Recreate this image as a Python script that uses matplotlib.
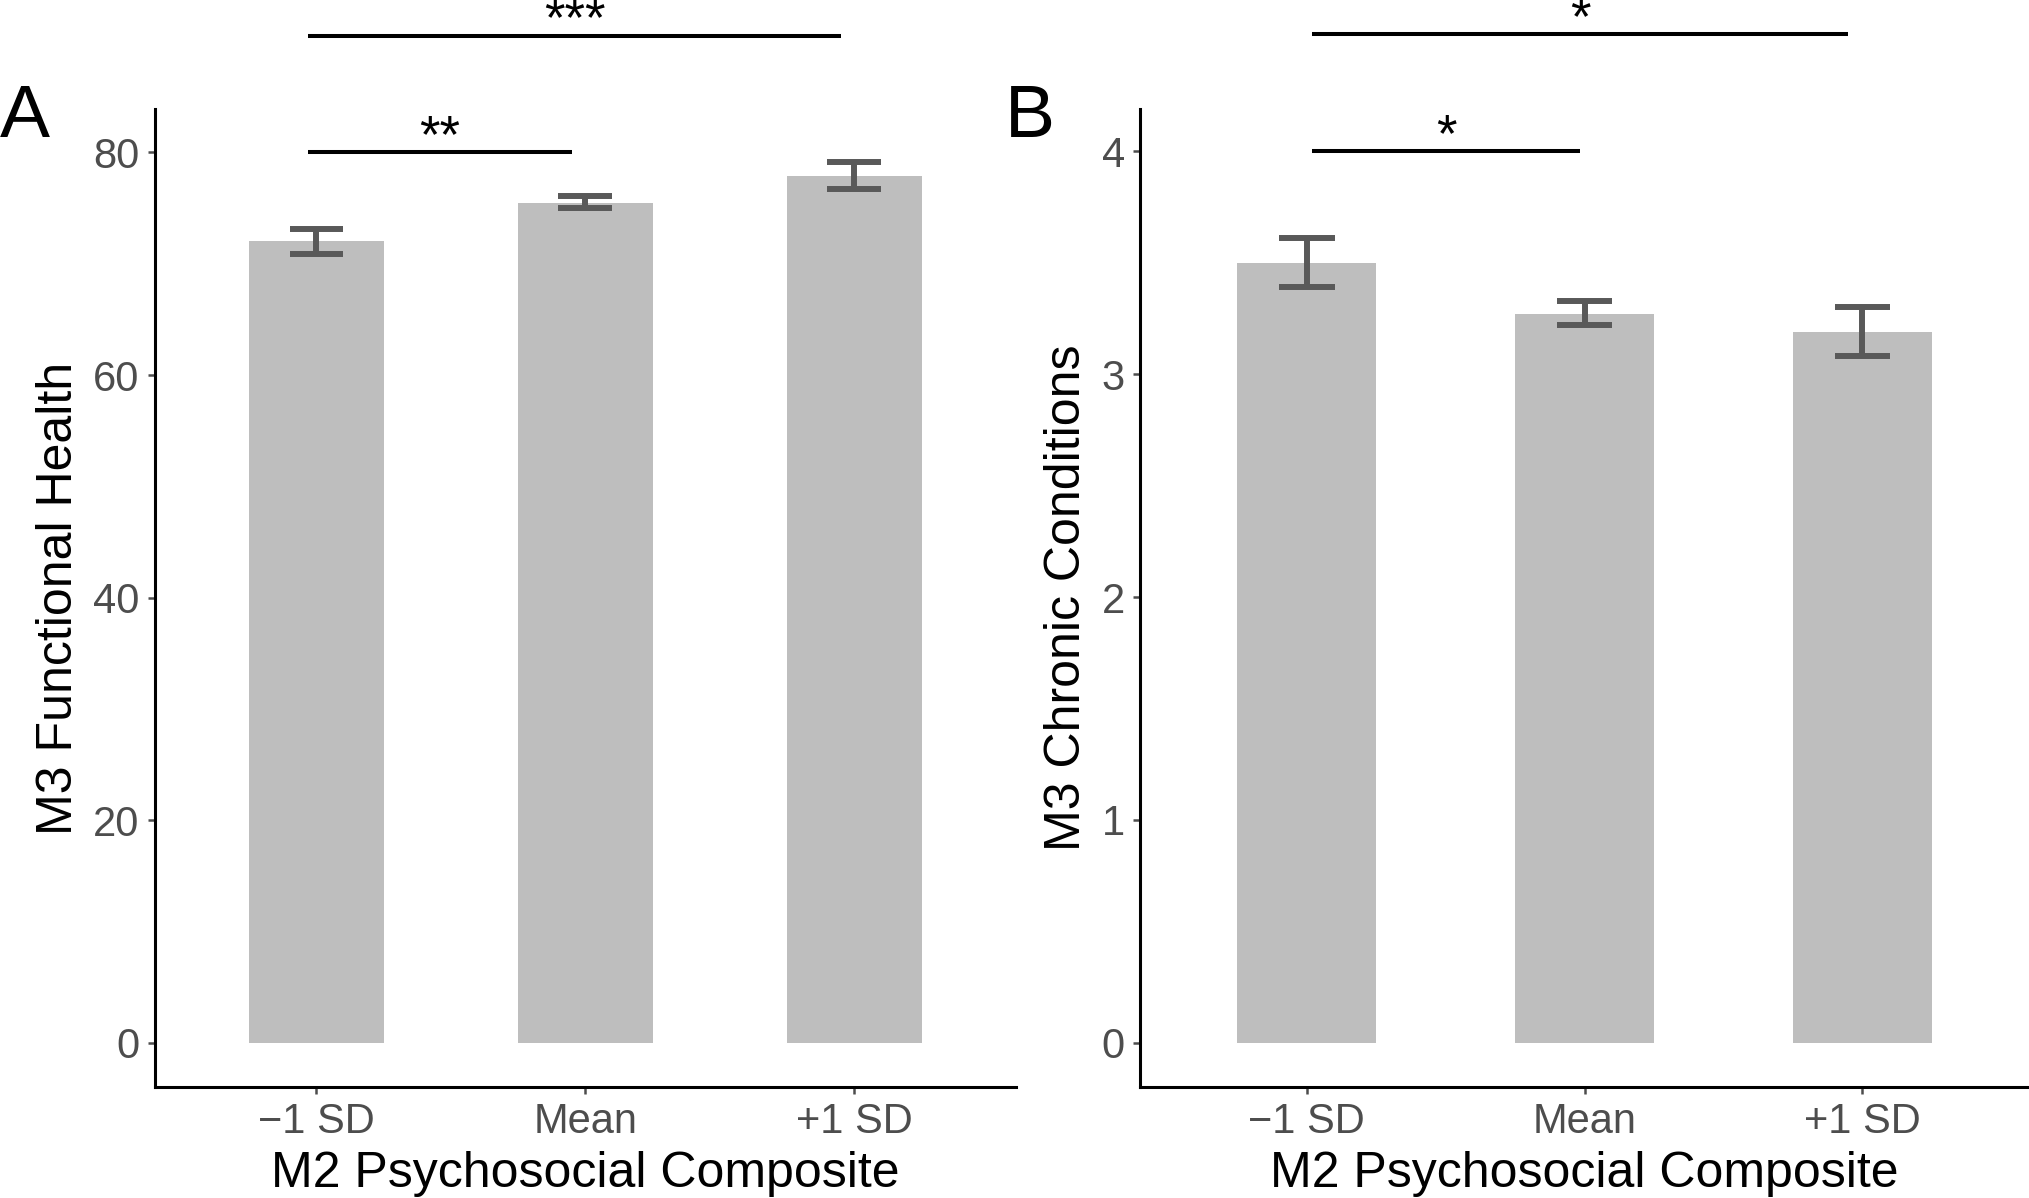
import matplotlib
matplotlib.use("Agg")
import matplotlib.pyplot as plt
import numpy as np

plt.rcParams["font.family"] = ["Liberation Sans", "DejaVu Sans"]

categories = ["\u22121 SD", "Mean", "+1 SD"]

# panel A: functional health
health_mean = [72.0, 75.5, 77.9]
health_low = [70.9, 75.0, 76.7]
health_high = [73.1, 76.1, 79.1]
health_brackets = [(0.97, 1.95, 80.0, "**"), (0.97, 2.95, 90.5, "***")]

# panel B: chronic conditions
chronic_mean = [3.50, 3.27, 3.19]
chronic_low = [3.39, 3.22, 3.08]
chronic_high = [3.61, 3.33, 3.30]
chronic_brackets = [(1.02, 1.985, 4.0, "*"), (1.02, 2.95, 4.527, "*")]

BAR = "#bebebe"
ERR = "#595959"
TICK = "#4d4d4d"

fig = plt.figure(figsize=(20.29, 11.98), dpi=100)
ax_a = fig.add_axes([0.0764, 0.0927, 0.4242, 0.8163])
ax_b = fig.add_axes([0.5619, 0.0927, 0.4381, 0.8163])


def draw_panel(ax, means, low, high, brackets, ylim, yticks, ylabel):
    x = np.arange(1, len(categories) + 1)
    ax.bar(x, means, width=0.5, color=BAR, zorder=1)
    ax.vlines(x, low, high, color=ERR, lw=4.3, zorder=2)
    ax.hlines(low, x - 0.1, x + 0.1, color=ERR, lw=4.3, zorder=2)
    ax.hlines(high, x - 0.1, x + 0.1, color=ERR, lw=4.3, zorder=2)
    ax.set_xlim(0.4, 3.6)
    ax.set_ylim(*ylim)
    ax.set_xticks(x)
    ax.set_xticklabels(categories)
    ax.set_yticks(yticks)
    for spine in ("top", "right"):
        ax.spines[spine].set_visible(False)
    for spine in ("left", "bottom"):
        ax.spines[spine].set_linewidth(2.2)
    ax.tick_params(axis="both", colors=TICK, labelsize=30, length=5, width=1.8,
                   pad=6)
    ax.set_xlabel("M2 Psychosocial Composite", fontsize=36, labelpad=6)
    ax.set_ylabel(ylabel, fontsize=36, labelpad=8)
    for x0, x1, y, label in brackets:
        ax.plot([x0, x1], [y, y], color="black", lw=2.9, clip_on=False,
                solid_capstyle="butt")
        ax.text((x0 + x1) / 2, y, label, ha="center", va="baseline",
                fontsize=38, clip_on=False)


draw_panel(ax_a, health_mean, health_low, health_high, health_brackets,
           (-3.95, 83.9), [0, 20, 40, 60, 80], "M3 Functional Health")
draw_panel(ax_b, chronic_mean, chronic_low, chronic_high, chronic_brackets,
           (-0.198, 4.19), [0, 1, 2, 3, 4], "M3 Chronic Conditions")

fig.text(0.0, 0.8856, "A", fontsize=54, ha="left", va="baseline")
fig.text(0.4955, 0.8856, "B", fontsize=54, ha="left", va="baseline")

fig.savefig("out.png", dpi=100)
